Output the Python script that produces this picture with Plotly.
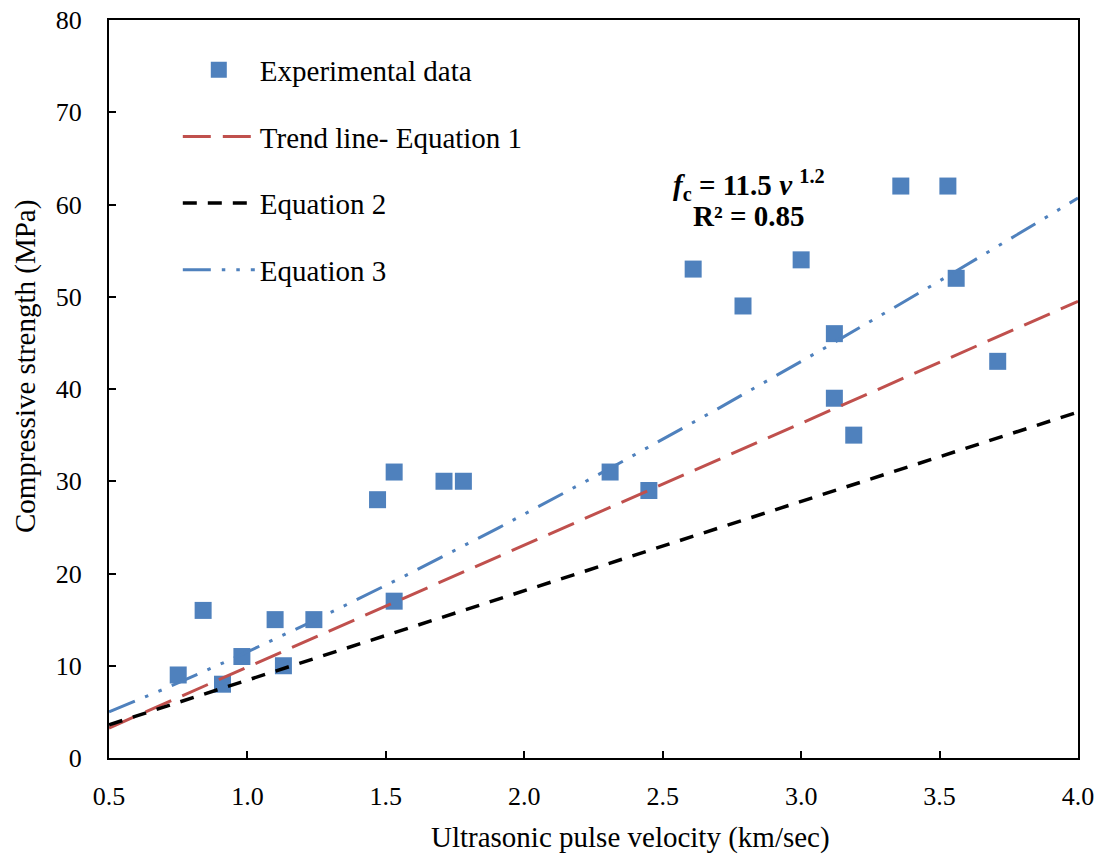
import numpy as np
import plotly.graph_objects as go

# Experimental measurements: pulse velocity (km/sec) vs compressive strength (MPa)
velocity = [0.75, 0.84, 0.91, 0.98, 1.10, 1.13, 1.24, 1.47, 1.53, 1.53, 1.71, 1.78,
            2.31, 2.45, 2.61, 2.79, 3.00, 3.12, 3.12, 3.19, 3.36, 3.53, 3.56, 3.71]
strength = [9, 16, 8, 11, 15, 10, 15, 28, 31, 17, 30, 30,
            31, 29, 53, 49, 54, 46, 39, 35, 62, 62, 52, 43]

# Straight-line relations, given at the ends of the velocity range
line_v = [0.5, 4.0]
eq1_fc = [3.25, 49.5]
eq2_fc = [3.6, 37.5]

# Power law fc = a * v^b
eq3_a, eq3_b = 11.5, 1.2
eq3_v = np.linspace(0.5, 4.0, 200)
eq3_fc = eq3_a * eq3_v ** eq3_b

BLUE = "#4F81BD"
RED = "#C0504D"
FONT = "Liberation Serif"

fig = go.Figure()
fig.add_trace(go.Scatter(
    x=velocity, y=strength, mode="markers", name="Experimental data",
    legendgroup="a",
    marker=dict(symbol="square", size=17, color=BLUE, line=dict(width=0)),
))
fig.add_trace(go.Scatter(
    x=line_v, y=eq1_fc, mode="lines", name="Trend line- Equation 1",
    legendgroup="b",
    line=dict(color=RED, width=3, dash="28px,12px"),
))
fig.add_trace(go.Scatter(
    x=line_v, y=eq2_fc, mode="lines", name="Equation 2",
    legendgroup="c",
    line=dict(color="black", width=3.5, dash="14px,11px"),
))
fig.add_trace(go.Scatter(
    x=eq3_v, y=eq3_fc, mode="lines", name="Equation 3",
    legendgroup="d",
    line=dict(color=BLUE, width=3, dash="28px,11px,3.5px,11px,3.5px,11px"),
))

# Fitted equation label
fig.add_annotation(
    x=2.81, y=62.1, xref="x", yref="y", showarrow=False,
    text="<b><i>f</i><sub>c</sub> = 11.5 <i>v</i> <sup>1.2</sup></b>",
    font=dict(family=FONT, size=29, color="black"), xanchor="center", yanchor="middle",
)
fig.add_annotation(
    x=2.81, y=58.8, xref="x", yref="y", showarrow=False,
    text="<b>R² = 0.85</b>",
    font=dict(family=FONT, size=29, color="black"), xanchor="center", yanchor="middle",
)

# Axis titles
fig.add_annotation(
    x=0.5377, y=-0.1084, xref="paper", yref="paper", showarrow=False,
    text="Ultrasonic pulse velocity (km/sec)",
    font=dict(family=FONT, size=29, color="black"), xanchor="center", yanchor="middle",
)
fig.add_annotation(
    x=-0.0867, y=0.531, xref="paper", yref="paper", showarrow=False,
    text="Compressive strength (MPa)", textangle=-90,
    font=dict(family=FONT, size=29, color="black"), xanchor="center", yanchor="middle",
)

axis_common = dict(
    showgrid=False, zeroline=False, showline=True, linecolor="black", linewidth=2,
    mirror=True, ticks="inside", ticklen=7, tickwidth=1.5, tickcolor="black",
    tickfont=dict(family=FONT, size=26, color="black"),
)

fig.update_xaxes(
    range=[0.5, 4.0], tickmode="array",
    tickvals=[0.5, 1.0, 1.5, 2.0, 2.5, 3.0, 3.5, 4.0],
    ticktext=["0.5", "1.0", "1.5", "2.0", "2.5", "3.0", "3.5", "4.0"],
    ticklabelstandoff=14,
    **axis_common,
)
fig.update_yaxes(
    range=[0, 80], tickmode="array", tickvals=list(range(0, 81, 10)),
    ticklabelstandoff=20,
    **axis_common,
)

fig.update_layout(
    width=1105, height=856,
    margin=dict(l=109, r=27, t=20, b=98, autoexpand=False),
    paper_bgcolor="white", plot_bgcolor="white",
    showlegend=True,
    legend=dict(
        x=0.071, y=0.967, xanchor="left", yanchor="top",
        bgcolor="rgba(0,0,0,0)", itemwidth=72, tracegroupgap=26,
        font=dict(family=FONT, size=29, color="black"),
    ),
)

fig.write_html("out.html")
